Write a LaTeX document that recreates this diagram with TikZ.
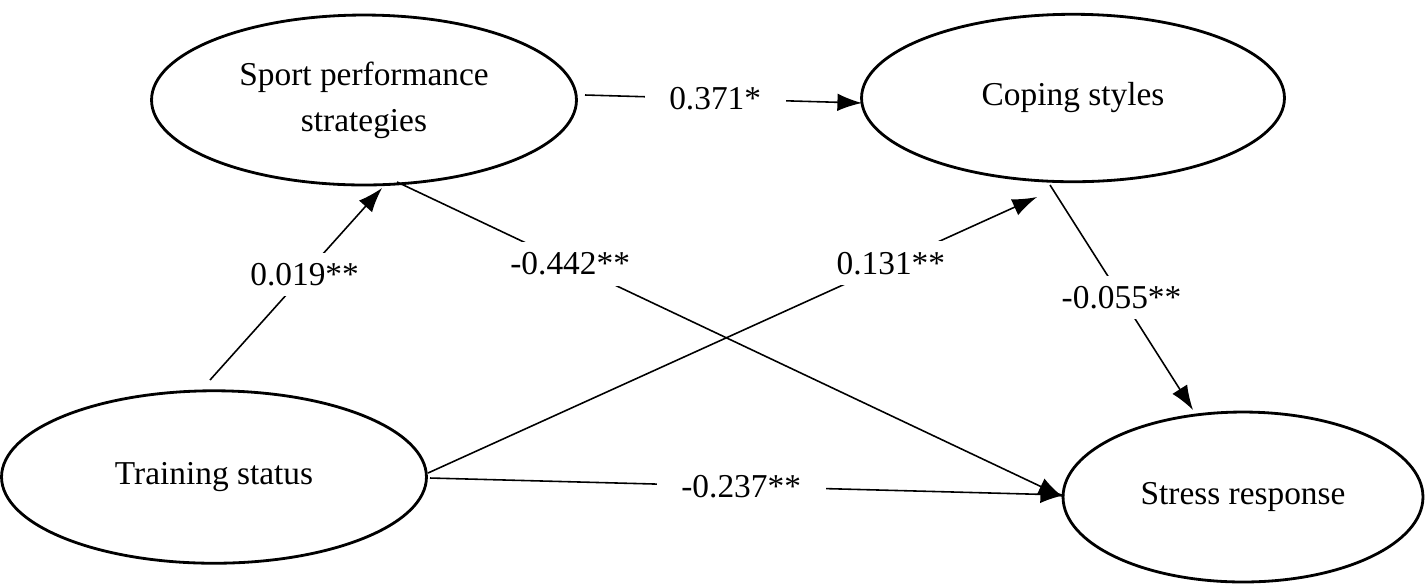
\documentclass[tikz,border=0pt]{standalone}
\usepackage{fontspec}
\setmainfont{Liberation Serif}
\usetikzlibrary{shapes.geometric,arrows.meta}
\begin{document}
\begin{tikzpicture}[x=0.02cm,y=-0.02cm,
  latent/.style={draw,ellipse,line width=1.6pt,inner sep=0pt},
  lab/.style={fill=white,inner xsep=14pt,inner ysep=6pt,font=\fontsize{19}{23}\selectfont},
  path/.style={line width=0.9pt,-{Latex[length=14pt,width=10pt]}}]
\useasboundingbox (0,0) rectangle (1425,583);
\node[latent,minimum width=8.5cm,minimum height=3.4cm,align=center,font=\fontsize{19}{26}\selectfont] (spo) at (364,100) {Sport performance\\strategies};
\node[latent,minimum width=8.46cm,minimum height=3.35cm,font=\fontsize{19}{23}\selectfont] (cop) at (1073,98) {Coping styles};
\node[latent,minimum width=8.5cm,minimum height=3.45cm,font=\fontsize{19}{23}\selectfont] (tra) at (214,477) {Training status};
\node[latent,minimum width=7.2cm,minimum height=3.4cm,font=\fontsize{19}{23}\selectfont] (str) at (1243,497) {Stress response};
\coordinate (a1) at (585,95); \coordinate (a2) at (862,103);
\coordinate (b1) at (210,380); \coordinate (b2) at (382,188);
\coordinate (c1) at (397,182); \coordinate (c2) at (1063,497);
\coordinate (d1) at (428,473); \coordinate (d2) at (1037,197);
\coordinate (e1) at (1050,185); \coordinate (e2) at (1193,410);
\coordinate (f1) at (430,478); \coordinate (f2) at (1065,495);
\draw[path] (a1) -- node[lab,pos=0.47] (la) {0.371*} (a2);
\draw[path] (b1) -- node[lab,pos=0.55] (lb) {0.019**} (b2);
\draw[path] (c1) -- node[lab,pos=0.26] (lc) {-0.442**} (c2);
\draw[path] (d1) -- node[lab,pos=0.76] (ld) {0.131**} (d2);
\draw[path] (e1) -- node[lab,pos=0.5] (le) {-0.055**} (e2);
\draw[path] (f1) -- node[lab,pos=0.49] (lf) {-0.237**} (f2);
\end{tikzpicture}
\end{document}
